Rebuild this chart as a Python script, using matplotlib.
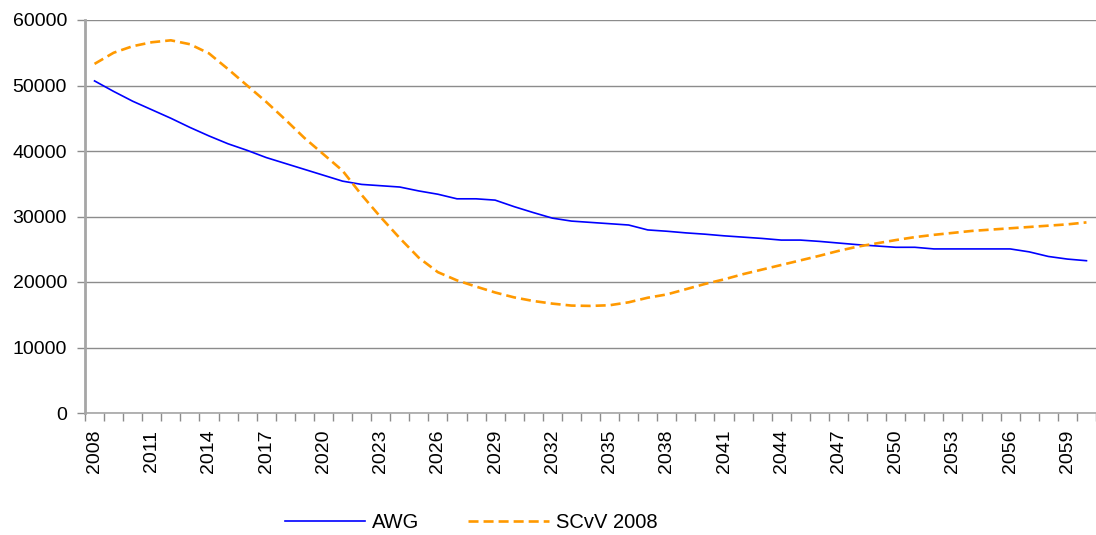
import matplotlib
matplotlib.use("Agg")
import matplotlib.pyplot as plt
import numpy as np

years = list(range(2008, 2061))
awg = [50700, 49100, 47600, 46300, 45000, 43600, 42300, 41100, 40100, 39000,
       38100, 37200, 36300, 35400, 34900, 34700, 34500, 33900, 33400, 32700,
       32700, 32500, 31500, 30600, 29750, 29300, 29100, 28900, 28700, 27950,
       27750, 27500, 27300, 27050, 26850, 26650, 26400, 26400, 26200, 25950,
       25700, 25500, 25300, 25300, 25050, 25050, 25050, 25050, 25050, 24600,
       23900, 23500, 23250]
scvv = [53300, 55000, 56000, 56600, 56900, 56300, 54900, 52500, 50000, 47500,
        44800, 42000, 39500, 37000, 33300, 29900, 26700, 23700, 21500, 20250,
        19300, 18400, 17650, 17100, 16700, 16400, 16350, 16450, 16900, 17600,
        18100, 18900, 19700, 20400, 21200, 21900, 22600, 23300, 24000, 24750,
        25400, 25900, 26400, 26850, 27200, 27500, 27800, 28000, 28200, 28400,
        28600, 28800, 29100]
series_names = ["AWG", "SCvV 2008"]

plt.rcParams['font.family'] = ['Liberation Sans', 'DejaVu Sans']
FS = 14
FS_LEG = 14.5

fig = plt.figure(figsize=(10.96, 5.35), dpi=100)
ax = fig.add_axes([85/1096, 1 - 413/535, 1 - 85/1096, (413 - 20)/535])

x = np.arange(len(years))
ax.plot(x, awg, color="#0000FF", lw=1.2, label=series_names[0])
ax.plot(x, scvv, color="#FF9900", lw=1.9, ls=(0, (3.8, 1.9)), label=series_names[1])

ax.set_ylim(0, 60000)
ax.set_xlim(-0.5, len(years) - 1 + 0.1)
ax.set_yticks(np.arange(0, 60001, 10000))
ax.yaxis.grid(True, color="#8c8c8c", lw=1)
ax.set_axisbelow(True)

ax.set_xticks(np.arange(-0.5, len(years), 1.0))
ax.set_xticklabels([])
lab_idx = list(range(0, len(years), 3))
ax.set_xticks(lab_idx, minor=True)
ax.set_xticklabels([str(years[i]) for i in lab_idx], minor=True, rotation=90)
ax.tick_params(axis='x', which='major', length=6, color="#8c8c8c", width=1)
ax.tick_params(axis='x', which='minor', length=0, pad=12, labelsize=FS)
ax.tick_params(axis='y', length=6, color="#8c8c8c", width=1, labelsize=FS, pad=7)

for s in ["top", "right"]:
    ax.spines[s].set_visible(False)
ax.spines["left"].set_color("#a6a6a6")
ax.spines["left"].set_linewidth(2)
ax.spines["bottom"].set_color("#a6a6a6")
ax.spines["bottom"].set_linewidth(1.2)

fig.legend(loc="center", bbox_to_anchor=(471/1096, 1 - 523/535), ncol=2,
           frameon=False, fontsize=FS_LEG, handlelength=4.0, columnspacing=2.4,
           handletextpad=0.35)

fig.savefig("out.png", dpi=100)
